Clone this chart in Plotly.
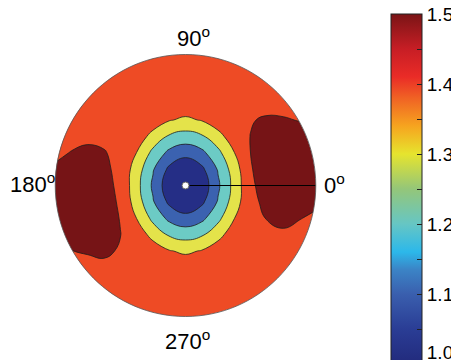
import plotly.graph_objects as go

# ---- data ----
u_vals = [-1.125, -1.0, -0.875, -0.75, -0.625, -0.5, -0.375, -0.25, -0.125, 0.0,
          0.125, 0.25, 0.375, 0.5, 0.625, 0.75, 0.875, 1.0, 1.125]
v_vals_top_down = [1.125, 1.0, 0.875, 0.75, 0.625, 0.5, 0.375, 0.25, 0.125, 0.0,
                   -0.125, -0.25, -0.375, -0.5, -0.625, -0.75, -0.875, -1.0, -1.125]

z_rows_top_down = [
    [1.46, 1.46, 1.46, 1.46, 1.46, 1.46, 1.46, 1.46, 1.46, 1.46, 1.46, 1.46, 1.46, 1.46, 1.46, 1.46, 1.46, 1.46, 1.46],
    [1.46, 1.46, 1.46, 1.46, 1.46, 1.46, 1.46, 1.46, 1.46, 1.46, 1.46, 1.46, 1.46, 1.46, 1.46, 1.46, 1.46, 1.46, 1.46],
    [1.46, 1.46, 1.46, 1.46, 1.46, 1.46, 1.46, 1.46, 1.46, 1.46, 1.46, 1.46, 1.46, 1.46, 1.46, 1.46, 1.46, 1.46, 1.46],
    [1.46, 1.46, 1.46, 1.46, 1.46, 1.46, 1.46, 1.46, 1.46, 1.46, 1.46, 1.46, 1.46, 1.46, 1.46, 1.46, 1.46, 1.46, 1.46],
    [1.46, 1.46, 1.46, 1.46, 1.46, 1.46, 1.46, 1.46, 1.46, 1.46, 1.46, 1.46, 1.46, 1.470, 1.473, 1.470, 1.46, 1.46, 1.46],
    [1.46, 1.46, 1.46, 1.46, 1.46, 1.46, 1.46, 1.46, 1.406, 1.384, 1.406, 1.46, 1.464, 1.495, 1.510, 1.5075, 1.4964, 1.485, 1.473],
    [1.46, 1.46, 1.467, 1.481, 1.4775, 1.4607, 1.46, 1.3642, 1.2879, 1.259, 1.2879, 1.3642, 1.4605, 1.5017, 1.539, 1.545, 1.534, 1.5225, 1.51],
    [1.46, 1.4775, 1.5045, 1.519, 1.506, 1.471, 1.3988, 1.2745, 1.1756, 1.134, 1.1756, 1.2745, 1.3988, 1.5008, 1.538, 1.576, 1.571, 1.56, 1.548],
    [1.4865, 1.515, 1.542, 1.553, 1.516, 1.4784, 1.351, 1.209, 1.0792, 1.02, 1.0792, 1.209, 1.351, 1.4954, 1.5329, 1.570, 1.6, 1.5975, 1.5855],
    [1.524, 1.5525, 1.58, 1.559, 1.522, 1.4845, 1.334, 1.184, 1.034, 1.02, 1.034, 1.184, 1.334, 1.489, 1.527, 1.564, 1.579, 1.557, 1.533],
    [1.5615, 1.59, 1.6, 1.566, 1.528, 1.4907, 1.351, 1.209, 1.0792, 1.02, 1.0792, 1.209, 1.351, 1.481, 1.518, 1.556, 1.542, 1.5195, 1.4955],
    [1.533, 1.554, 1.5735, 1.572, 1.5345, 1.4969, 1.3988, 1.2745, 1.1756, 1.134, 1.1756, 1.2745, 1.3988, 1.466, 1.504, 1.523, 1.504, 1.482, 1.46],
    [1.4955, 1.5165, 1.536, 1.546, 1.539, 1.5015, 1.464, 1.3642, 1.2879, 1.259, 1.2879, 1.3642, 1.46, 1.46, 1.47, 1.4856, 1.4667, 1.46, 1.46],
    [1.46, 1.479, 1.4985, 1.5084, 1.5165, 1.491, 1.46, 1.46, 1.406, 1.384, 1.406, 1.46, 1.46, 1.46, 1.46, 1.46, 1.46, 1.46, 1.46],
    [1.46, 1.46, 1.461, 1.471, 1.479, 1.47, 1.46, 1.46, 1.46, 1.46, 1.46, 1.46, 1.46, 1.46, 1.46, 1.46, 1.46, 1.46, 1.46],
    [1.46, 1.46, 1.46, 1.46, 1.46, 1.46, 1.46, 1.46, 1.46, 1.46, 1.46, 1.46, 1.46, 1.46, 1.46, 1.46, 1.46, 1.46, 1.46],
    [1.46, 1.46, 1.46, 1.46, 1.46, 1.46, 1.46, 1.46, 1.46, 1.46, 1.46, 1.46, 1.46, 1.46, 1.46, 1.46, 1.46, 1.46, 1.46],
    [1.46, 1.46, 1.46, 1.46, 1.46, 1.46, 1.46, 1.46, 1.46, 1.46, 1.46, 1.46, 1.46, 1.46, 1.46, 1.46, 1.46, 1.46, 1.46],
    [1.46, 1.46, 1.46, 1.46, 1.46, 1.46, 1.46, 1.46, 1.46, 1.46, 1.46, 1.46, 1.46, 1.46, 1.46, 1.46, 1.46, 1.46, 1.46],
]

level_start = 1.1
level_end = 1.5
level_step = 0.1

cbar_min = 1.0
cbar_max = 1.5
cbar_tickvals = [1.0, 1.05, 1.1, 1.15, 1.2, 1.25, 1.3, 1.35, 1.4, 1.45, 1.5]
cbar_ticktext = ["1.0<br> ", "", "1.1", "", "1.2", "", "1.3", "", "1.4", "", "1.5"]

angle_labels = ["0", "90", "180", "270"]

# radial reference line (centre -> 0 deg edge)
ray_u = [0.0, 1.0]
ray_v = [0.0, 0.0]

# ---- styling ----
v_vals = v_vals_top_down[::-1]
z_rows = z_rows_top_down[::-1]

fill_scale = [
    [0.0, "#252e86"],
    [0.2, "#3b62b0"],
    [0.4, "#6ccbc5"],
    [0.6, "#e4e34a"],
    [0.8, "#ee4b25"],
    [1.0, "#761416"],
]

jet_scale = [
    [0.0, "#222a7c"],
    [0.1, "#2a3d95"],
    [0.2, "#3a5fae"],
    [0.27, "#3b84c6"],
    [0.32, "#2cb8ea"],
    [0.4, "#66c6c4"],
    [0.5, "#94c679"],
    [0.6, "#e6e42e"],
    [0.68, "#f6a41f"],
    [0.76, "#f06224"],
    [0.82, "#ea2c27"],
    [0.9, "#c71e25"],
    [1.0, "#7a1416"],
]

FONT = "Liberation Sans, Arial, Helvetica, sans-serif"

fig = go.Figure()

fig.add_trace(go.Contour(
    x=u_vals, y=v_vals, z=z_rows,
    autocontour=False,
    contours=dict(start=level_start, end=level_end, size=level_step,
                  coloring="fill", showlines=True),
    line=dict(color="#1e1e1e", width=0.8, smoothing=1.3),
    colorscale=fill_scale,
    showscale=False,
    hoverinfo="skip",
))

fig.add_trace(go.Scatter(
    x=ray_u, y=ray_v, mode="lines",
    line=dict(color="black", width=1.1),
    hoverinfo="skip",
))

fig.add_trace(go.Scatter(
    x=[ray_u[0]], y=[ray_v[0]], mode="markers",
    marker=dict(size=7, color="white", line=dict(color="#666666", width=1)),
    hoverinfo="skip",
))

# colour bar carrier
fig.add_trace(go.Scatter(
    x=[ray_u[0]], y=[ray_v[0]], mode="markers",
    marker=dict(size=0.1, opacity=0, color=[cbar_min],
                cmin=cbar_min, cmax=cbar_max, colorscale=jet_scale,
                showscale=True,
                colorbar=dict(
                    x=1.063, xanchor="left", xpad=0,
                    y=0.982, yanchor="top", ypad=0,
                    lenmode="pixels", len=350, thickness=31,
                    outlinewidth=1, outlinecolor="#222222",
                    tickmode="array", tickvals=cbar_tickvals, ticktext=cbar_ticktext,
                    ticks="inside", ticklen=5, tickwidth=1, tickcolor="#222222",
                    ticklabeloverflow="allow",
                    tickfont=dict(family=FONT, size=19, color="black"),
                )),
    hoverinfo="skip",
))

k = 0.5523
circle_path = (f"M 1 0 C 1 {k} {k} 1 0 1 C {-k} 1 -1 {k} -1 0 "
               f"C -1 {-k} {-k} -1 0 -1 C {k} -1 1 {-k} 1 0 Z")
mask_path = "M -1.6 -1.5 H 1.6 V 1.5 H -1.6 Z " + circle_path

label_font = dict(family=FONT, size=22, color="black")

fig.update_layout(
    width=451, height=352,
    margin=dict(l=0, r=89, t=0, b=4),
    paper_bgcolor="white", plot_bgcolor="white",
    showlegend=False,
    xaxis=dict(range=[-1.3626, 1.4008], visible=False, showgrid=False, zeroline=False),
    yaxis=dict(range=[-1.3015, 1.355], visible=False, showgrid=False, zeroline=False),
    shapes=[
        dict(type="path", path=mask_path, xref="x", yref="y", fillrule="evenodd",
             fillcolor="white", line=dict(width=0), layer="above"),
        dict(type="path", path=circle_path, xref="x", yref="y",
             line=dict(color="#555555", width=0.8), layer="above"),
    ],
    annotations=[
        dict(x=1.05, y=0.014, xref="x", yref="y", text=angle_labels[0] + "<sup>o</sup>",
             showarrow=False, xanchor="left", yanchor="middle", font=label_font),
        dict(x=0.061, y=1.134, xref="x", yref="y", text=angle_labels[1] + "<sup>o</sup>",
             showarrow=False, xanchor="center", yanchor="middle", font=label_font),
        dict(x=-0.989, y=0.022, xref="x", yref="y", text=angle_labels[2] + "<sup>o</sup>",
             showarrow=False, xanchor="right", yanchor="middle", font=label_font),
        dict(x=0.016, y=-1.176, xref="x", yref="y", text=angle_labels[3] + "<sup>o</sup>",
             showarrow=False, xanchor="center", yanchor="middle", font=label_font),
    ],
)

fig.write_html("out.html")
